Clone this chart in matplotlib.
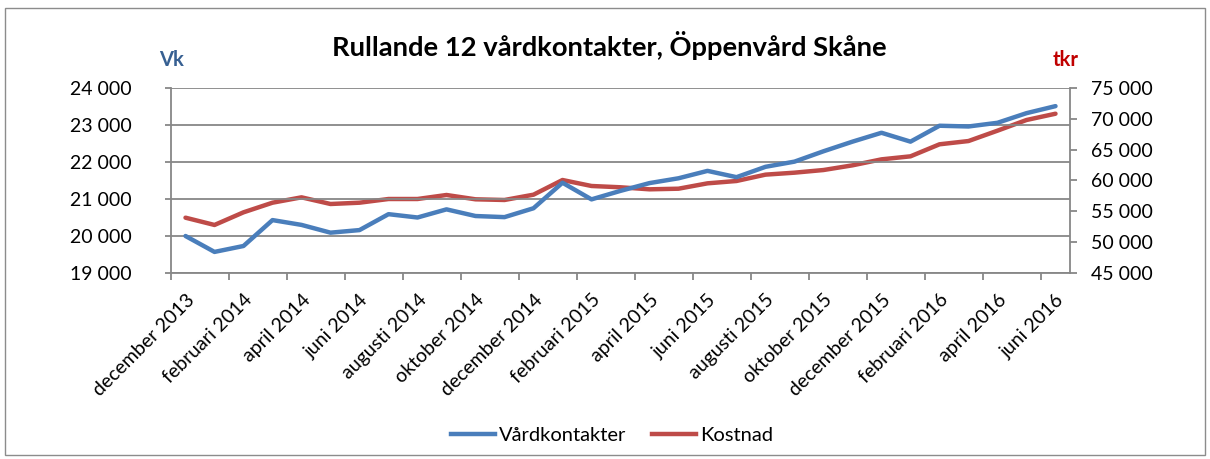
import matplotlib
matplotlib.use("Agg")
import matplotlib.pyplot as plt
from matplotlib.ticker import FuncFormatter, FixedLocator
from matplotlib.patches import Rectangle
from matplotlib.lines import Line2D
from matplotlib.transforms import ScaledTranslation

plt.rcParams['font.family'] = ['Lato', 'DejaVu Sans']

months = ["december 2013", "januari 2014", "februari 2014", "mars 2014", "april 2014",
          "maj 2014", "juni 2014", "juli 2014", "augusti 2014", "september 2014",
          "oktober 2014", "november 2014", "december 2014", "januari 2015", "februari 2015",
          "mars 2015", "april 2015", "maj 2015", "juni 2015", "juli 2015",
          "augusti 2015", "september 2015", "oktober 2015", "november 2015", "december 2015",
          "januari 2016", "februari 2016", "mars 2016", "april 2016", "maj 2016", "juni 2016"]

vardkontakter = [20000, 19570, 19730, 20430, 20300, 20090, 20160, 20590, 20500, 20720,
                 20540, 20510, 20750, 21440, 20990, 21220, 21430, 21560, 21760, 21590,
                 21870, 22010, 22290, 22550, 22790, 22550, 22980, 22960, 23060, 23320, 23510]

kostnad = [53970, 52790, 54840, 56400, 57270, 56190, 56400, 57000, 57000, 57650,
           56950, 56840, 57700, 60080, 59110, 58900, 58570, 58670, 59540, 59920,
           60950, 61270, 61700, 62460, 63430, 63920, 65870, 66400, 68080, 69810, 70830]

left_ticks = [19000, 20000, 21000, 22000, 23000, 24000]
right_ticks = [45000, 50000, 55000, 60000, 65000, 70000, 75000]

BLUE = "#4A7EBB"
RED = "#BE4B48"
GRID = "#878787"
FS = 14

W, H = 1210, 459
fig = plt.figure(figsize=(W / 100, H / 100), dpi=100)
fig.patches.append(Rectangle((5 / W, 1 - 455 / H), 1200 / W, 447 / H, transform=fig.transFigure,
                             fill=False, edgecolor="#8c8c8c", linewidth=1.0))

ax = fig.add_axes([171 / W, 1 - 273 / H, (1070 - 171) / W, (273 - 88) / H])
ax2 = ax.twinx()

x = list(range(len(months)))
ax.plot(x, vardkontakter, color=BLUE, linewidth=3.2, solid_capstyle='round', zorder=3)
ax2.plot(x, kostnad, color=RED, linewidth=3.2, solid_capstyle='round', zorder=3)
ax.set_zorder(ax2.get_zorder() + 1)
ax.patch.set_visible(False)

fmt = FuncFormatter(lambda v, p: f"{int(v):,}".replace(",", " "))

ax.set_xlim(-0.5, len(months) - 0.5)
ax.set_ylim(left_ticks[0], left_ticks[-1])
ax.set_yticks(left_ticks)
ax.yaxis.set_major_formatter(fmt)
ax2.set_ylim(right_ticks[0], right_ticks[-1])
ax2.set_yticks(right_ticks)
ax2.yaxis.set_major_formatter(fmt)

label_pos = x[::2]
ax.xaxis.set_major_locator(FixedLocator(label_pos))
ax.set_xticklabels([months[i] for i in label_pos], rotation=45, ha='right', va='top',
                   rotation_mode='anchor', fontsize=FS)
shift = ScaledTranslation(-0.04, 0, fig.dpi_scale_trans)
for lab in ax.get_xticklabels():
    lab.set_transform(lab.get_transform() + shift)
ax.xaxis.set_minor_locator(FixedLocator([i - 0.5 for i in range(0, len(months), 2)]))
ax.tick_params(axis='x', which='major', length=0, pad=13)
ax.tick_params(axis='x', which='minor', length=5, color=GRID, width=1.3)

ax.tick_params(axis='y', length=4.3, color=GRID, width=1.3, labelsize=FS, pad=24)
ax2.tick_params(axis='y', length=5, color=GRID, width=1.3, labelsize=FS, pad=10)

ax.grid(axis='y', color=GRID, linewidth=1.3)
for a in (ax, ax2):
    for s in a.spines.values():
        s.set_visible(False)
for sp in (ax.spines['left'], ax.spines['bottom'], ax2.spines['right']):
    sp.set_visible(True)
    sp.set_color(GRID)
    sp.set_linewidth(1.3)

fig.text(609 / W, 1 - 45 / H, "Rullande 12 vårdkontakter, Öppenvård Skåne", ha='center', va='center',
         fontsize=19.7, fontweight='bold', color='black')
fig.text(172 / W, 1 - 60 / H, "Vk", ha='center', va='center', fontsize=14.5, fontweight='bold', color="#376092")
fig.text(1066 / W, 1 - 60 / H, "tkr", ha='center', va='center', fontsize=14.5, fontweight='bold', color="#C00000")

handles = [Line2D([], [], color=BLUE, linewidth=3.2), Line2D([], [], color=RED, linewidth=3.2)]
fig.legend(handles, ["Vårdkontakter", "Kostnad"], loc='center', bbox_to_anchor=(612 / W, 1 - 435 / H),
           ncol=2, frameon=False, fontsize=14.5, handlelength=2.2, handletextpad=0.2, columnspacing=1.25)

fig.savefig("out.png", dpi=100)
